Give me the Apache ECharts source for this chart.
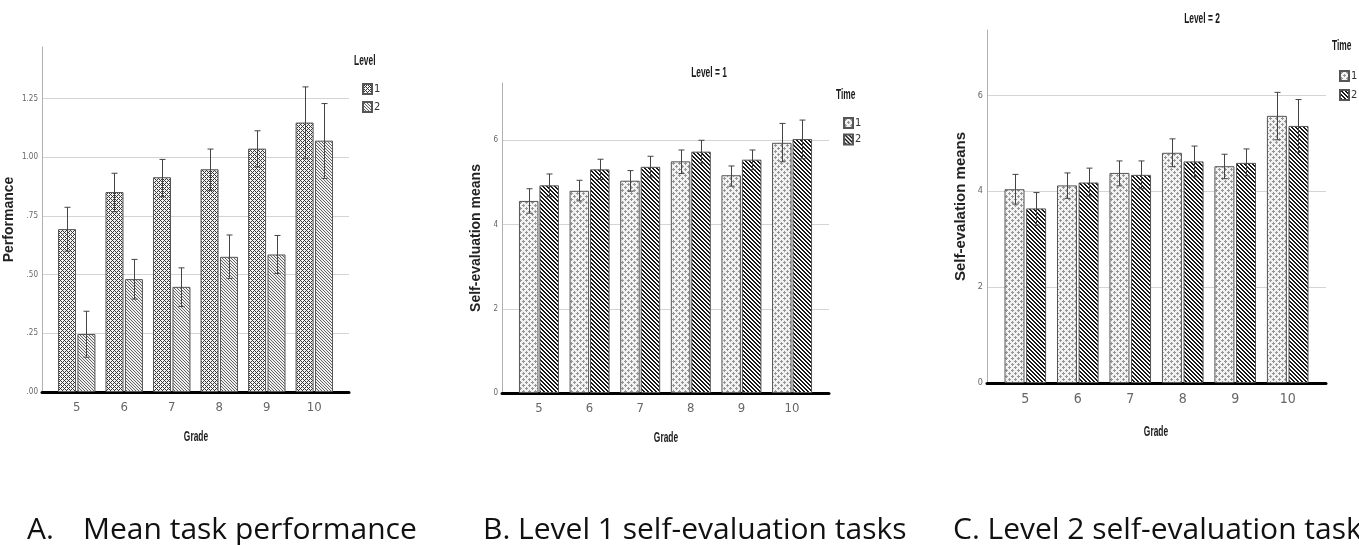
<!DOCTYPE html>
<html><head><meta charset="utf-8">
<script src="https://cdn.jsdelivr.net/npm/echarts@6/dist/echarts.min.js"></script>
<style>html,body{margin:0;padding:0;background:#fff}#c{width:1359px;height:545px}</style>
</head><body><div id="c"></div>
<script>
// ---------------- DATA ----------------
const grades = [5, 6, 7, 8, 9, 10];
const gradeLabels = ['5', '6', '7', '8', '9', '10'];

// Panel A: mean task performance by Level
const perfL1 = [0.694, 0.852, 0.915, 0.949, 1.037, 1.148];
const perfL1Lo = [0.600, 0.768, 0.832, 0.858, 0.959, 0.996];
const perfL1Hi = [0.787, 0.932, 0.991, 1.035, 1.113, 1.300];
const perfL2 = [0.247, 0.481, 0.448, 0.576, 0.586, 1.071];
const perfL2Lo = [0.148, 0.396, 0.364, 0.484, 0.505, 0.910];
const perfL2Hi = [0.344, 0.565, 0.529, 0.669, 0.667, 1.229];
const perfTicks = ['.00', '.25', '.50', '.75', '1.00', '1.25'];

// Panel B: Level 1 self-evaluation by Time
const selfB1 = [4.56, 4.80, 5.04, 5.50, 5.17, 5.94];
const selfB1Lo = [4.27, 4.56, 4.79, 5.21, 4.91, 5.49];
const selfB1Hi = [4.85, 5.05, 5.28, 5.77, 5.39, 6.40];
const selfB2 = [4.93, 5.31, 5.37, 5.73, 5.54, 6.03];
const selfB2Lo = [4.66, 5.07, 5.13, 5.46, 5.30, 5.56];
const selfB2Hi = [5.20, 5.55, 5.62, 6.00, 5.77, 6.48];

// Panel C: Level 2 self-evaluation by Time
const selfC1 = [4.04, 4.12, 4.38, 4.80, 4.52, 5.57];
const selfC1Lo = [3.73, 3.85, 4.11, 4.51, 4.26, 5.07];
const selfC1Hi = [4.35, 4.38, 4.63, 5.09, 4.77, 6.06];
const selfC2 = [3.64, 4.18, 4.34, 4.62, 4.59, 5.36];
const selfC2Lo = [3.29, 3.90, 4.05, 4.30, 4.32, 4.81];
const selfC2Hi = [3.97, 4.48, 4.63, 4.94, 4.88, 5.91];
const selfTicks = ['0', '2', '4', '6'];

const legendItems = ['1', '2'];
const captions = ['A.', 'Mean task performance', 'B. Level 1 self-evaluation tasks', 'C. Level 2 self-evaluation tasks'];

// ---------------- STYLE ----------------
const NARROW = "'Liberation Sans Narrow','Arial Narrow','DejaVu Sans Condensed',sans-serif";
const SANS = "'Liberation Sans',Arial,sans-serif";
const CAPFONT = "'Open Sans',sans-serif";
const SQUEEZE = 0.6;

function makePattern(w, h, fn) {
  const c = document.createElement('canvas');
  c.width = w; c.height = h;
  const ctx = c.getContext('2d');
  const img = ctx.createImageData(w, h);
  for (let y = 0; y < h; y++) for (let x = 0; x < w; x++) {
    const g = fn(x, y); const i = (y * w + x) * 4;
    img.data[i] = g; img.data[i + 1] = g; img.data[i + 2] = g; img.data[i + 3] = 255;
  }
  ctx.putImageData(img, 0, 0);
  return { image: c, repeat: 'repeat' };
}
const mod = (a, n) => ((a % n) + n) % n;
const patMesh = makePattern(4, 4, (x, y) => (mod(x + y, 4) === 0 || mod(x - y, 4) === 0) ? 55 : 245);
const patFine = makePattern(3, 3, (x, y) => mod(x - y, 3) === 0 ? 100 : 240);
const patDots = makePattern(6, 6, (x, y) => {
  const p = (cx, cy) => (x === cx && Math.abs(y - cy) <= 1) || (y === cy && Math.abs(x - cx) <= 1);
  return (p(1, 1) || p(4, 4)) ? 150 : 242;
});
const patBold = makePattern(4, 4, (x, y) => mod(x - y, 4) < 2 ? 25 : 255);

const xMin = 4.27, xMax = 10.73;

const panels = [
  { grid: { left: 42, top: 47, width: 307, height: 345 }, yMax: 1.47, yInt: 0.25, ticks: perfTicks,
    yName: 'Performance', yNameGap: 26, yNameSize: 14, xLabelSize: 13, yLabelSize: 8,
    barW: 18, gapPct: 8, pats: [patMesh, patFine], key: 'A',
    s: [[perfL1, perfL1Lo, perfL1Hi], [perfL2, perfL2Lo, perfL2Hi]],
    legend: { left: 357, top: 78, gap: 6 }, legendTitle: ['Level', 354, 61], xName: ['Grade', 196, 437] },
  { grid: { left: 502, top: 83, width: 327, height: 310 }, yMax: 7.36, yInt: 2, ticks: selfTicks,
    yName: 'Self-evaluation means', yNameGap: 19, yNameSize: 14, xLabelSize: 13, yLabelSize: 8,
    barW: 19.5, gapPct: 5, pats: [patDots, patBold], key: 'B',
    s: [[selfB1, selfB1Lo, selfB1Hi], [selfB2, selfB2Lo, selfB2Hi]],
    legend: { left: 838, top: 112, gap: 4.5 }, legendTitle: ['Time', 836, 95], title: ['Level = 1', 709, 73], xName: ['Grade', 666, 438] },
  { grid: { left: 987, top: 30, width: 339, height: 353 }, yMax: 7.36, yInt: 2, ticks: selfTicks,
    yName: 'Self-evalation means', yNameGap: 19, yNameSize: 15, xLabelSize: 14, yLabelSize: 9,
    barW: 20, gapPct: 8, pats: [patDots, patBold], key: 'C',
    s: [[selfC1, selfC1Lo, selfC1Hi], [selfC2, selfC2Lo, selfC2Hi]],
    legend: { left: 1334, top: 65, gap: 7 }, legendTitle: ['Time', 1332, 46], title: ['Level = 2', 1202, 19], xName: ['Grade', 1156, 432] }
];

const option = { animation: false, grid: [], xAxis: [], yAxis: [], series: [], legend: [], graphic: [] };

function squeezedText(txt, x, y, size, align) {
  return { type: 'text', x: x, y: y, scaleX: SQUEEZE, z: 10,
    style: { text: txt, font: 'bold ' + size + 'px ' + SANS, fill: '#1a1a1a', align: align, verticalAlign: 'middle' } };
}

panels.forEach((p, gi) => {
  option.grid.push(Object.assign({ containLabel: false }, p.grid));
  option.xAxis.push({
    type: 'value', gridIndex: gi, min: xMin, max: xMax,
    axisLine: { show: true, onZero: false, lineStyle: { color: '#000', width: 3 } },
    axisTick: { show: false }, splitLine: { show: false },
    axisLabel: { showMinLabel: false, showMaxLabel: false, margin: 9, color: '#666', fontSize: p.xLabelSize, fontFamily: NARROW,
      formatter: v => { const i = grades.indexOf(v); return i >= 0 ? gradeLabels[i] : ''; } }
  });
  option.yAxis.push({
    type: 'value', gridIndex: gi, min: 0, max: p.yMax, interval: p.yInt,
    axisLine: { show: true, lineStyle: { color: '#b0b0b0', width: 1 } },
    axisTick: { show: false },
    splitLine: { show: true, showMinLine: false, showMaxLine: false, lineStyle: { color: '#d4d4d4', width: 1 } },
    axisLabel: { showMaxLabel: false, margin: 4, color: '#666', fontSize: p.yLabelSize, fontFamily: NARROW,
      formatter: v => { const t = p.ticks[Math.round(v / p.yInt)]; return t === undefined ? '' : t; } },
    name: p.yName, nameLocation: 'middle', nameRotate: 90, nameGap: p.yNameGap,
    nameTextStyle: { fontFamily: SANS, fontWeight: 'bold', fontSize: p.yNameSize, color: '#222' }
  });
  const gapPx = p.barW * p.gapPct / 100;
  const off = (p.barW + gapPx) / 2;
  const names = [];
  p.s.forEach((ser, si) => {
    const name = p.key + '|' + legendItems[si];
    names.push(name);
    option.series.push({
      type: 'bar', name: name, xAxisIndex: gi, yAxisIndex: gi,
      barWidth: p.barW, barGap: p.gapPct + '%',
      itemStyle: { color: p.pats[si], borderColor: '#555', borderWidth: 1 },
      emphasis: { disabled: true },
      data: grades.map((g, i) => [g, ser[0][i]])
    });
    const dx = si === 0 ? -off : off;
    option.series.push({
      type: 'custom', name: p.key + 'err' + si, xAxisIndex: gi, yAxisIndex: gi, z: 5,
      encode: { x: 0, y: [1, 2] },
      data: grades.map((g, i) => [g, ser[1][i], ser[2][i]]),
      renderItem: (params, api) => {
        const x = api.value(0);
        const t = api.coord([x, api.value(2)]);
        const b = api.coord([x, api.value(1)]);
        const cx = Math.round(t[0] + dx) + 0.5, cap = 3;
        const st = { stroke: '#444', lineWidth: 1 };
        return { type: 'group', children: [
          { type: 'line', shape: { x1: cx, y1: t[1], x2: cx, y2: b[1] }, style: st },
          { type: 'line', shape: { x1: cx - cap, y1: t[1], x2: cx + cap, y2: t[1] }, style: st },
          { type: 'line', shape: { x1: cx - cap, y1: b[1], x2: cx + cap, y2: b[1] }, style: st }
        ] };
      }
    });
  });
  option.legend.push({
    data: names, orient: 'vertical', left: p.legend.left, top: p.legend.top,
    itemWidth: 9, itemHeight: 10, itemGap: p.legend.gap, icon: 'rect', selectedMode: false,
    formatter: n => n.split('|')[1],
    textStyle: { fontSize: 11, color: '#333', fontFamily: NARROW, padding: [0, 0, 0, -3] }
  });
  const lt = p.legendTitle;
  option.graphic.push(squeezedText(lt[0], lt[1], lt[2], 14, 'left'));
  option.graphic.push(squeezedText(p.xName[0], p.xName[1], p.xName[2], 14, 'center'));
  if (p.title) option.graphic.push(squeezedText(p.title[0], p.title[1], p.title[2], 14, 'center'));
});

// captions
[[captions[0], 27], [captions[1], 83], [captions[2], 483], [captions[3], 953]].forEach(c => {
  option.graphic.push({ type: 'text', x: c[1], y: 530, style: { text: c[0], font: "30px " + CAPFONT, fill: '#111', align: 'left', verticalAlign: 'middle' } });
});

const chart = echarts.init(document.getElementById('c'), null, { renderer: 'canvas' });
chart.setOption(option);
</script></body></html>
